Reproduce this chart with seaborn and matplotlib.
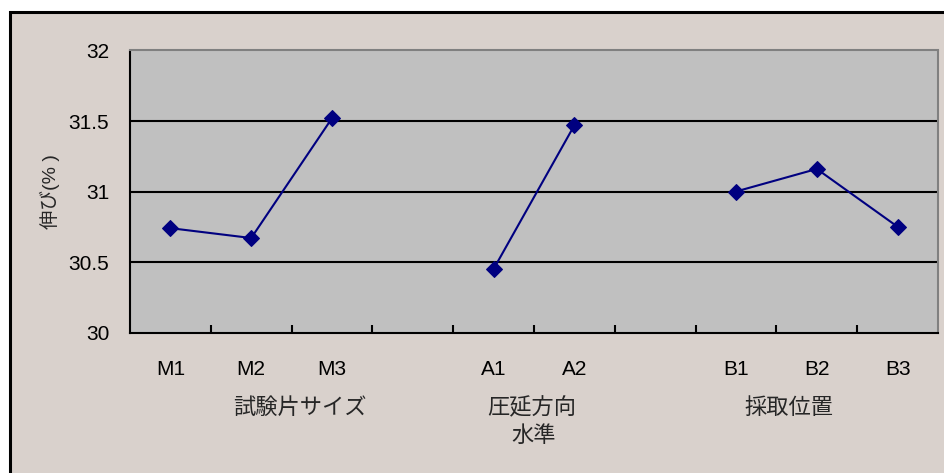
import matplotlib
matplotlib.use("Agg")
import matplotlib.pyplot as plt
import seaborn as sns
import pandas as pd
from matplotlib.patches import Rectangle
from matplotlib.ticker import FixedLocator

# Category slots along the x axis (blank slots separate the factor groups)
levels = ["M1", "M2", "M3", "", "A1", "A2", "", "B1", "B2", "B3"]

# Mean elongation per level of each factor
size_levels = ["M1", "M2", "M3"]
size_values = [30.74, 30.67, 31.52]
roll_levels = ["A1", "A2"]
roll_values = [30.45, 31.47]
pos_levels = ["B1", "B2", "B3"]
pos_values = [31.00, 31.16, 30.75]

factor_names = ["試験片サイズ", "圧延方向", "採取位置"]
x_title = "水準"
y_title = "伸び(% )"
y_ticks = [30, 30.5, 31, 31.5, 32]

rows = []
for name, lv, vals in zip(factor_names,
                          [size_levels, roll_levels, pos_levels],
                          [size_values, roll_values, pos_values]):
    for l, v in zip(lv, vals):
        rows.append({"factor": name, "level": l, "pos": levels.index(l), "value": v})
df = pd.DataFrame(rows)

sns.set_style("white", {"axes.facecolor": "#C0C0C0"})
plt.rcParams["font.family"] = ["Liberation Sans", "Noto Sans CJK JP", "DejaVu Sans"]

W, H = 944, 473
fig = plt.figure(figsize=(W / 100, H / 100), dpi=100, facecolor="white")
bg = "#D9D1CC"
fig.patches.append(Rectangle((10 / W, -0.01), 1.0, (H - 12) / H + 0.01,
                             transform=fig.transFigure, facecolor=bg,
                             edgecolor="black", linewidth=2.2, zorder=-10))

left, right, top, bottom = 130, 938, 50.5, 332.5
ax = fig.add_axes([left / W, (H - bottom) / H, (right - left) / W, (bottom - top) / H])
ax.set_facecolor("#C0C0C0")

navy = "#000080"
sns.lineplot(data=df, x="pos", y="value", hue="factor",
             palette=[navy] * 3, marker="D", markersize=8,
             markeredgecolor=navy, linewidth=1.5, legend=False, ax=ax,
             estimator=None, zorder=5)

ax.set_xlim(-0.5, len(levels) - 0.5)
ax.set_ylim(y_ticks[0], y_ticks[-1])
ax.set_yticks(y_ticks)
ax.set_yticklabels([f"{t:g}" for t in y_ticks])
ax.set_xticks(range(len(levels)))
ax.set_xticklabels(levels)
ax.xaxis.set_minor_locator(FixedLocator([i + 0.5 for i in range(len(levels) - 1)]))

for t in y_ticks[1:-1]:
    ax.axhline(t, color="black", linewidth=1.5, zorder=1)

ax.tick_params(axis="x", which="major", bottom=False, length=0, pad=20,
               labelsize=15, colors="black")
ax.tick_params(axis="x", which="minor", bottom=True, direction="in",
               length=6, width=1.5, color="black")
ax.tick_params(axis="y", which="major", direction="in", length=6, width=1.5,
               pad=15, labelsize=15, colors="black")

for side in ("left", "bottom"):
    ax.spines[side].set_color("black")
    ax.spines[side].set_linewidth(1.5)
for side in ("top", "right"):
    ax.spines[side].set_color("#808080")
    ax.spines[side].set_linewidth(1.5)

ax.set_xlabel("")
ax.set_ylabel(y_title, fontsize=14, labelpad=6)

# Factor names under the level labels, and the shared axis title
for name, xc in zip(factor_names, [0.210, 0.4975, 0.8156]):
    ax.text(xc, -0.268, name, transform=ax.transAxes, ha="center", va="center", fontsize=16)
ax.text(0.5, -0.37, x_title, transform=ax.transAxes, ha="center", va="center", fontsize=16)

fig.savefig("out.png", dpi=100, facecolor="white")
